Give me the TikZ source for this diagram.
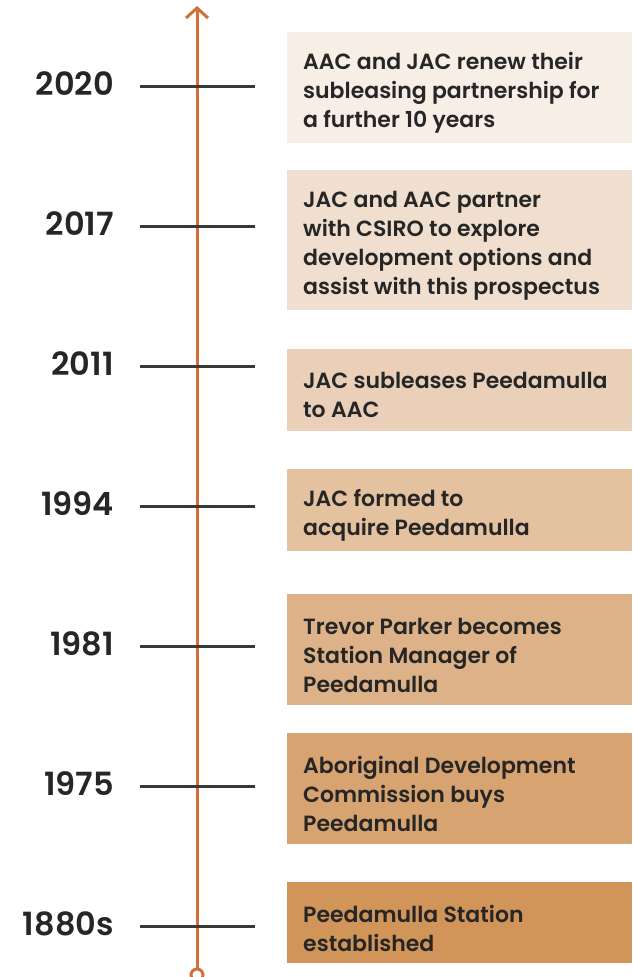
\documentclass[tikz,border=0pt]{standalone}
\usepackage{fontspec}
\setmainfont{Poppins}[BoldFont={Poppins SemiBold}]
\newfontfamily\yearfont{Poppins SemiBold}
\usetikzlibrary{arrows.meta}
\definecolor{axis}{HTML}{D2703A}
\definecolor{tick}{HTML}{3A3A35}
\definecolor{ink}{HTML}{262626}
\definecolor{boxlight}{HTML}{F7EEE6}
\definecolor{boxdark}{HTML}{D19459}
\tikzset{
  yearlabel/.style={anchor=east, font=\fontsize{32}{34}\yearfont, text=ink, inner sep=0pt},
  tickline/.style={draw=tick, line width=3pt},
  eventtext/.style={anchor=west, align=left, font=\fontsize{22}{29}\selectfont\bfseries, text=ink, inner sep=0pt},
}
\begin{document}
\begin{tikzpicture}[x=1pt,y=-1pt]
\useasboundingbox (0,0) rectangle (632,977);
% event boxes, lightest at the top
\foreach \top/\bot/\m [count=\i] in {32/143/0, 170/310/17, 349/431/33, 469/551/50, 594/705/67, 733/844/83, 882/963/100}{
  \fill[boxdark!\m!boxlight] (287,\top) rectangle (632,\bot);
}
% time axis
\coordinate (tip) at (197,6);
\node[circle, draw=axis, line width=3pt, fill=white, minimum size=12pt, inner sep=0pt] (dot) at (197,975) {};
\draw[axis, line width=3pt, -{Straight Barb[length=10pt, width=22pt, line width=3pt]}] (dot.north) -- (tip);
% ticks and year labels
\foreach \y/\yr [count=\i] in {86/2020, 226/2017, 366/2011, 506/1994, 646/1981, 786/1975, 926/1880s}{
  \coordinate (tl\i) at (140,\y);
  \coordinate (tr\i) at (255,\y);
  \draw[tickline] (tl\i) -- (tr\i);
  \node[yearlabel] (yr\i) at (114,\y-2) {\yr};
}
% event texts
\node[eventtext] (e1) at (303,93) {AAC and JAC renew their\\subleasing partnership for\\a further 10 years};
\node[eventtext] (e2) at (303,246) {JAC and AAC partner\\with CSIRO to explore\\development options and\\assist with this prospectus};
\node[eventtext] (e3) at (303,395) {JAC subleases Peedamulla\\to AAC};
\node[eventtext] (e4) at (303,515) {JAC formed to\\acquire Peedamulla};
\node[eventtext] (e5) at (303,655) {Trevor Parker becomes\\Station Manager of\\Peedamulla};
\node[eventtext] (e6) at (303,794) {Aboriginal Development\\Commission buys\\Peedamulla};
\node[eventtext] (e7) at (303,928) {Peedamulla Station\\established};
\end{tikzpicture}
\end{document}
